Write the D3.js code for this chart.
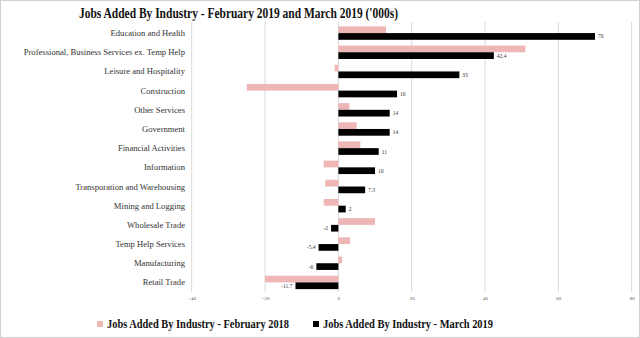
<!DOCTYPE html>
<html><head><meta charset="utf-8">
<script src="https://cdn.jsdelivr.net/npm/d3@7"></script>
<style>html,body{margin:0;padding:0;background:#fff;}svg{display:block;}</style>
</head><body>
<svg id="c" width="640" height="338"></svg>
<script>
const categories = ["Education and Health","Professional, Business Services ex. Temp Help","Leisure and Hospitality","Construction","Other Services","Government","Financial Activities","Information","Transporation and Warehousing","Mining and Logging","Wholesale Trade","Temp Help Services","Manufacturing","Retail Trade"];
const february = [13, 51, -1, -25, 3, 5, 6, -4, -3.6, -4, 10, 3.2, 1, -20];
const march = [70, 42.4, 33, 16, 14, 14, 11, 10, 7.3, 2, -2, -5.4, -6, -11.7];
const marchLabels = ["70","42.4","33","16","14","14","11","10","7.3","2","-2","-5.4","-6","-11.7"];
const tickValues = [-40,-20,0,20,40,60,80];
const seriesNames = ["Jobs Added By Industry - February 2018","Jobs Added By Industry - March 2019"];
const colors = ["#efb6b6","#000000"];

const svg = d3.select("#c");
const serif = "'Liberation Serif','DejaVu Serif',serif";
svg.append("rect").attr("x",0.5).attr("y",0.5).attr("width",639).attr("height",337).attr("fill","#fff").attr("stroke","#d0d0d0");

const x = d3.scaleLinear().domain([-40,80]).range([191.7,631.7]);
const y = d3.scaleBand().domain(categories).range([23.5,292]).paddingInner(0.3).paddingOuter(0.15);
const y2 = d3.scaleBand().domain([0,1]).range([0,y.bandwidth()]);

// title
svg.append("text").attr("x",79).attr("y",18)
  .attr("font-family",serif).attr("font-weight","bold").attr("font-size",15).attr("fill","#111")
  .attr("textLength",319).attr("lengthAdjust","spacingAndGlyphs")
  .text("Jobs Added By Industry - February 2019 and March 2019 ('000s)");

// gridlines
svg.append("g").selectAll("line").data(tickValues).join("line")
  .attr("x1",d=>x(d)).attr("x2",d=>x(d)).attr("y1",22).attr("y2",292)
  .attr("stroke","#d9d9d9").attr("stroke-width",1);

// axis tick labels
const ax = svg.append("g").attr("transform","translate(0,296)")
  .call(d3.axisBottom(x).tickValues(tickValues).tickSize(0).tickPadding(0));
ax.select(".domain").remove();
ax.selectAll("text").attr("font-family",serif).attr("font-size",5).attr("fill","#555");

// category labels
svg.append("g").selectAll("text").data(categories).join("text")
  .attr("x",185).attr("y",d=>y(d)+y.bandwidth()/2+3)
  .attr("text-anchor","end").attr("font-family",serif).attr("font-size",8.6).attr("fill","#333")
  .text(d=>d);

// bars
const series = [february, march];
series.forEach((vals,si)=>{
  svg.append("g").selectAll("rect").data(vals).join("rect")
    .attr("x",d=>x(Math.min(0,d))).attr("width",d=>Math.abs(x(d)-x(0)))
    .attr("y",(d,i)=>y(categories[i])+y2(si)).attr("height",y2.bandwidth())
    .attr("fill",colors[si]);
});

// data labels for march
svg.append("g").selectAll("text").data(march).join("text")
  .attr("x",d=>d>=0?x(d)+3:x(d)-3)
  .attr("y",(d,i)=>y(categories[i])+y2(1)+y2.bandwidth()/2+2)
  .attr("text-anchor",d=>d>=0?"start":"end")
  .attr("font-family",serif).attr("font-size",5.5).attr("fill","#333")
  .text((d,i)=>marchLabels[i]);

// legend
const leg = [{x:97,w:182,name:seriesNames[0],c:colors[0]},{x:313,w:170,name:seriesNames[1],c:colors[1]}];
leg.forEach(l=>{
  svg.append("rect").attr("x",l.x).attr("y",321).attr("width",6).attr("height",6).attr("fill",l.c);
  svg.append("text").attr("x",l.x+10).attr("y",328).attr("font-family",serif).attr("font-weight","bold")
    .attr("font-size",13).attr("fill","#111")
    .attr("textLength",l.w).attr("lengthAdjust","spacingAndGlyphs").text(l.name);
});
</script>
</body></html>
